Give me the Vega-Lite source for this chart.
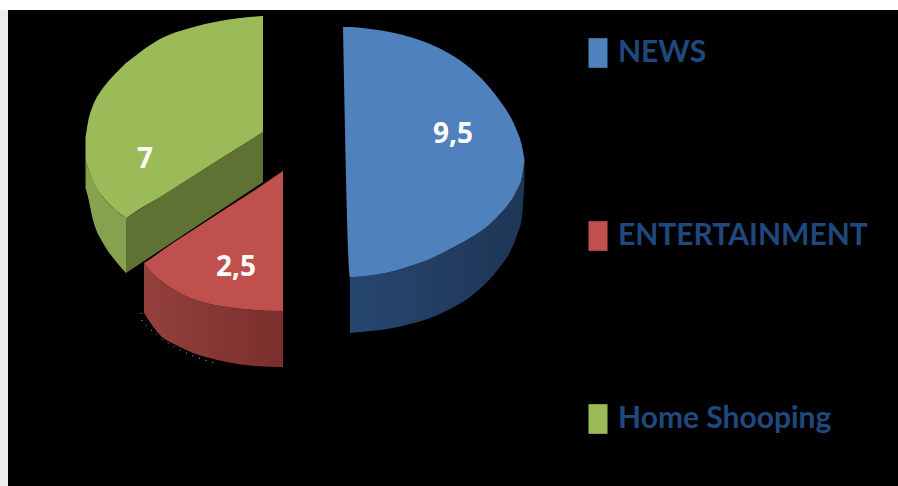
{
  "$schema": "https://vega.github.io/schema/vega-lite/v6.json",
  "width": 898,
  "height": 486,
  "padding": 0,
  "autosize": {"type": "none"},
  "background": "#ffffff",
  "view": {"stroke": null},
  "config": {"axis": {"domain": false, "grid": false, "ticks": false, "labels": false, "title": null}},
  "datasets": {
    "panels": [
      {"panel": "strip", "left": 0, "right": 8, "top": 10, "bottom": 486},
      {"panel": "stage", "left": 8, "right": 898, "top": 10, "bottom": 486}
    ],
    "faces": [
      {"series": "Home Shooping", "x": 85.5, "y": 138, "y2": 160},
      {"series": "Home Shooping", "x": 88, "y": 122, "y2": 168},
      {"series": "Home Shooping", "x": 92, "y": 108, "y2": 179},
      {"series": "Home Shooping", "x": 97, "y": 97, "y2": 189},
      {"series": "Home Shooping", "x": 103, "y": 88, "y2": 197},
      {"series": "Home Shooping", "x": 114, "y": 75, "y2": 209},
      {"series": "Home Shooping", "x": 124, "y": 65, "y2": 216.5},
      {"series": "Home Shooping", "x": 126, "y": 63, "y2": 218},
      {"series": "Home Shooping", "x": 128, "y": 61.5, "y2": 216.7},
      {"series": "Home Shooping", "x": 143, "y": 50, "y2": 207},
      {"series": "Home Shooping", "x": 160, "y": 39, "y2": 197},
      {"series": "Home Shooping", "x": 190, "y": 28, "y2": 178},
      {"series": "Home Shooping", "x": 220, "y": 21, "y2": 159},
      {"series": "Home Shooping", "x": 263, "y": 16, "y2": 132},

      {"series": "ENTERTAINMENT", "x": 144, "y": 263, "y2": 263},
      {"series": "ENTERTAINMENT", "x": 152, "y": 258, "y2": 273},
      {"series": "ENTERTAINMENT", "x": 160, "y": 252, "y2": 280},
      {"series": "ENTERTAINMENT", "x": 176, "y": 241, "y2": 291},
      {"series": "ENTERTAINMENT", "x": 193, "y": 230, "y2": 299},
      {"series": "ENTERTAINMENT", "x": 210, "y": 219, "y2": 304},
      {"series": "ENTERTAINMENT", "x": 227, "y": 208, "y2": 307},
      {"series": "ENTERTAINMENT", "x": 255, "y": 190, "y2": 310},
      {"series": "ENTERTAINMENT", "x": 283, "y": 171, "y2": 311},

      {"series": "NEWS", "x": 343, "y": 27, "y2": 27},
      {"series": "NEWS", "x": 350, "y": 27, "y2": 277},
      {"series": "NEWS", "x": 370, "y": 29, "y2": 275.5},
      {"series": "NEWS", "x": 390, "y": 32, "y2": 272},
      {"series": "NEWS", "x": 410, "y": 37, "y2": 266},
      {"series": "NEWS", "x": 430, "y": 44, "y2": 259},
      {"series": "NEWS", "x": 450, "y": 54, "y2": 249},
      {"series": "NEWS", "x": 470, "y": 68, "y2": 238},
      {"series": "NEWS", "x": 490, "y": 88, "y2": 224},
      {"series": "NEWS", "x": 500, "y": 101, "y2": 214},
      {"series": "NEWS", "x": 510, "y": 116, "y2": 202},
      {"series": "NEWS", "x": 517, "y": 131, "y2": 190},
      {"series": "NEWS", "x": 522, "y": 146, "y2": 177},
      {"series": "NEWS", "x": 524.5, "y": 160, "y2": 160}
    ],
    "sides": [
      {"part": "green rim", "x": 85.5, "y": 160, "y2": 188},
      {"part": "green rim", "x": 88, "y": 168, "y2": 197},
      {"part": "green rim", "x": 93, "y": 181, "y2": 220},
      {"part": "green rim", "x": 103, "y": 197, "y2": 243},
      {"part": "green rim", "x": 114, "y": 209, "y2": 259},
      {"part": "green rim", "x": 126, "y": 218, "y2": 273},
      {"part": "green cut", "x": 126, "y": 218, "y2": 273},
      {"part": "green cut", "x": 263, "y": 132, "y2": 182},

      {"part": "red rim", "x": 144, "y": 263, "y2": 313},
      {"part": "red rim", "x": 152, "y": 273, "y2": 325},
      {"part": "red rim", "x": 160, "y": 280, "y2": 335},
      {"part": "red rim", "x": 176, "y": 291, "y2": 345},
      {"part": "red rim", "x": 193, "y": 299, "y2": 353},
      {"part": "red rim", "x": 210, "y": 304, "y2": 358},
      {"part": "red rim", "x": 227, "y": 307, "y2": 362},
      {"part": "red rim", "x": 255, "y": 310, "y2": 366},
      {"part": "red rim", "x": 283, "y": 311, "y2": 367},

      {"part": "blue rim", "x": 350, "y": 277, "y2": 333},
      {"part": "blue rim", "x": 370, "y": 275.5, "y2": 331},
      {"part": "blue rim", "x": 390, "y": 272, "y2": 328.5},
      {"part": "blue rim", "x": 410, "y": 266, "y2": 324},
      {"part": "blue rim", "x": 430, "y": 259, "y2": 318},
      {"part": "blue rim", "x": 450, "y": 249, "y2": 309},
      {"part": "blue rim", "x": 470, "y": 238, "y2": 297},
      {"part": "blue rim", "x": 490, "y": 224, "y2": 279},
      {"part": "blue rim", "x": 500, "y": 214, "y2": 267},
      {"part": "blue rim", "x": 510, "y": 202, "y2": 252},
      {"part": "blue rim", "x": 517, "y": 190, "y2": 235},
      {"part": "blue rim", "x": 522, "y": 177, "y2": 217},
      {"part": "blue rim", "x": 524.5, "y": 160, "y2": 182}
    ],
    "specks": [
      {"x": 141, "y": 313},
      {"x": 142, "y": 322},
      {"x": 150, "y": 329},
      {"x": 162, "y": 339},
      {"x": 178, "y": 349},
      {"x": 195, "y": 357},
      {"x": 218, "y": 364}
    ],
    "shares": [
      {"series": "NEWS", "value": 9.5, "label": "9,5", "x": 453, "y": 135},
      {"series": "ENTERTAINMENT", "value": 2.5, "label": "2,5", "x": 236, "y": 268},
      {"series": "Home Shooping", "value": 7, "label": "7", "x": 145, "y": 160}
    ]
  },
  "layer": [
    {
      "data": {"name": "panels"},
      "mark": {"type": "rect"},
      "encoding": {
        "x": {"field": "left", "type": "quantitative", "scale": {"domain": [0, 898], "nice": false, "zero": false}, "axis": null},
        "x2": {"field": "right"},
        "y": {"field": "top", "type": "quantitative", "scale": {"domain": [486, 0], "nice": false, "zero": false}, "axis": null},
        "y2": {"field": "bottom"},
        "fill": {"field": "panel", "type": "nominal", "scale": {"domain": ["strip", "stage"], "range": ["#ececec", "#000000"]}, "legend": null}
      }
    },
    {
      "data": {"name": "specks"},
      "mark": {"type": "line", "color": "#b8b8b8", "strokeWidth": 1, "strokeDash": [1, 6]},
      "encoding": {
        "x": {"field": "x", "type": "quantitative", "axis": null},
        "y": {"field": "y", "type": "quantitative", "axis": null}
      }
    },
    {
      "data": {"name": "sides"},
      "transform": [{"filter": "datum.part === 'green rim'"}],
      "mark": {"type": "area", "color": "#86a24e", "interpolate": "monotone"},
      "encoding": {
        "x": {"field": "x", "type": "quantitative", "axis": null},
        "y": {"field": "y", "type": "quantitative", "axis": null},
        "y2": {"field": "y2"}
      }
    },
    {
      "data": {"name": "sides"},
      "transform": [{"filter": "datum.part === 'green cut'"}],
      "mark": {"type": "area", "color": "#5f7234"},
      "encoding": {
        "x": {"field": "x", "type": "quantitative", "axis": null},
        "y": {"field": "y", "type": "quantitative", "axis": null},
        "y2": {"field": "y2"}
      }
    },
    {
      "data": {"name": "sides"},
      "transform": [{"filter": "datum.part === 'red rim'"}],
      "mark": {
        "type": "area",
        "interpolate": "monotone",
        "color": {"gradient": "linear", "x1": 0, "y1": 0, "x2": 1, "y2": 0, "stops": [{"offset": 0, "color": "#93403d"}, {"offset": 1, "color": "#7a2f2d"}]}
      },
      "encoding": {
        "x": {"field": "x", "type": "quantitative", "axis": null},
        "y": {"field": "y", "type": "quantitative", "axis": null},
        "y2": {"field": "y2"}
      }
    },
    {
      "data": {"name": "sides"},
      "transform": [{"filter": "datum.part === 'blue rim'"}],
      "mark": {
        "type": "area",
        "interpolate": "monotone",
        "color": {"gradient": "linear", "x1": 0, "y1": 0, "x2": 1, "y2": 0, "stops": [{"offset": 0, "color": "#27466f"}, {"offset": 1, "color": "#1e3656"}]}
      },
      "encoding": {
        "x": {"field": "x", "type": "quantitative", "axis": null},
        "y": {"field": "y", "type": "quantitative", "axis": null},
        "y2": {"field": "y2"}
      }
    },
    {
      "data": {"name": "faces"},
      "mark": {"type": "area", "interpolate": "monotone"},
      "encoding": {
        "x": {"field": "x", "type": "quantitative", "axis": null},
        "y": {"field": "y", "type": "quantitative", "axis": null},
        "y2": {"field": "y2"},
        "color": {
          "field": "series",
          "type": "nominal",
          "scale": {"domain": ["NEWS", "ENTERTAINMENT", "Home Shooping"], "range": ["#4f81bd", "#c0504d", "#9bbb59"]},
          "legend": {
            "title": null,
            "orient": "none",
            "legendX": 583,
            "legendY": 38,
            "padding": 0,
            "symbolType": "M-0.64,-1H0.64V1H-0.64Z",
            "symbolSize": 880,
            "symbolStrokeWidth": 0,
            "labelFont": "Lato",
            "labelFontWeight": "bold",
            "labelFontSize": 30,
            "labelColor": "#1f497d",
            "labelOffset": 5,
            "labelLimit": 400,
            "rowPadding": 153
          }
        }
      }
    },
    {
      "data": {"name": "shares"},
      "mark": {"type": "text", "font": "Open Sans", "fontWeight": "bold", "fontSize": 28, "color": "#ffffff", "align": "center", "baseline": "middle"},
      "encoding": {
        "x": {"field": "x", "type": "quantitative", "axis": null},
        "y": {"field": "y", "type": "quantitative", "axis": null},
        "text": {"field": "label"}
      }
    }
  ]
}
